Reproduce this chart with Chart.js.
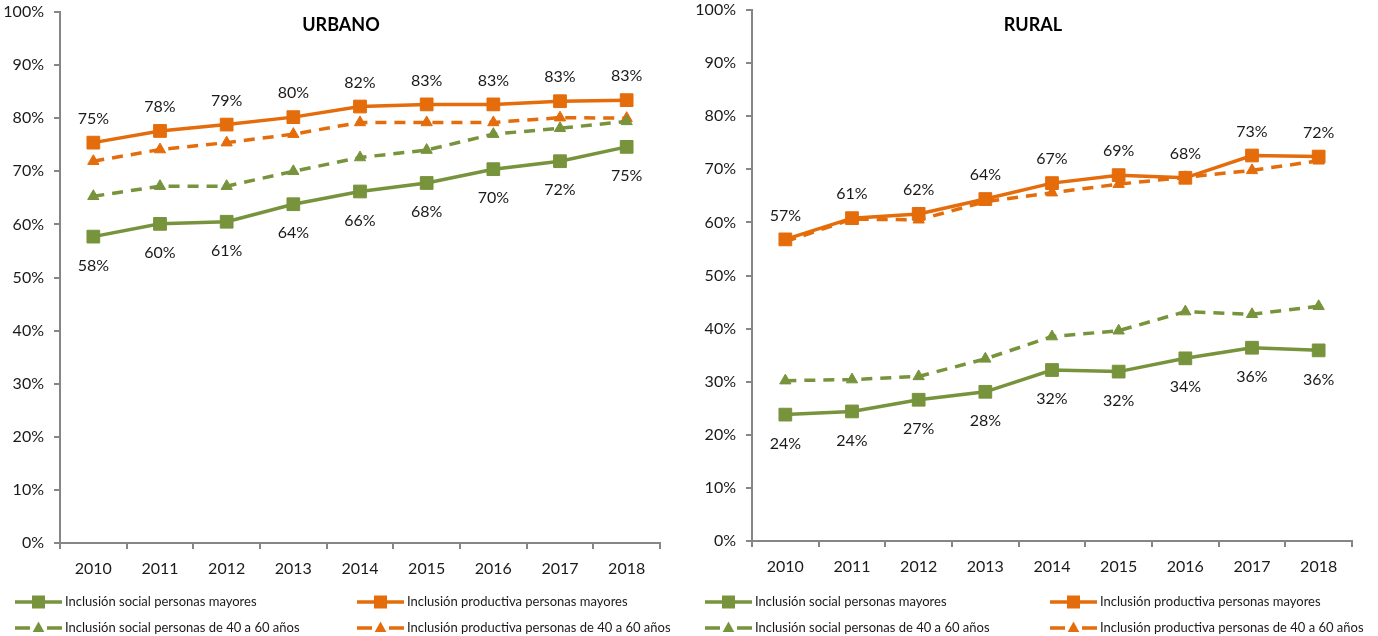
<!DOCTYPE html>
<html lang="es">
  <head>
    <meta charset="UTF-8" />
    <script src="https://cdn.jsdelivr.net/npm/chart.js"></script>
    <title>Inclusión social y productiva</title>
    <style>
      body { margin: 0; background: #fff; }
      .panel { position: absolute; top: 0; }
    </style>
  </head>
  <body>
    <canvas id="urbano" class="panel" style="left: 0" width="690" height="636"></canvas>
    <canvas id="rural" class="panel" style="left: 690px" width="688" height="636"></canvas>

<script>
  // datos
  const anios = ["2010", "2011", "2012", "2013", "2014", "2015", "2016", "2017", "2018"];
  const nombresSeries = [
    "Inclusión social personas mayores",
    "Inclusión productiva personas mayores",
    "Inclusión social personas de 40 a 60 años",
    "Inclusión productiva personas de 40 a 60 años"
  ];

  const urbSocialMayores = [57.7, 60.1, 60.5, 63.8, 66.2, 67.8, 70.4, 71.9, 74.6];
  const urbProdMayores = [75.4, 77.6, 78.8, 80.2, 82.2, 82.6, 82.6, 83.2, 83.4];
  const urbSocial4060 = [65.3, 67.2, 67.2, 70.0, 72.6, 74.0, 77.0, 78.1, 79.4];
  const urbProd4060 = [71.9, 74.1, 75.4, 77.0, 79.2, 79.2, 79.2, 80.1, 80.0];

  const rurSocialMayores = [23.8, 24.4, 26.6, 28.1, 32.2, 31.9, 34.4, 36.4, 35.9];
  const rurProdMayores = [56.8, 60.8, 61.6, 64.4, 67.4, 68.9, 68.4, 72.6, 72.4];
  const rurSocial4060 = [30.2, 30.4, 31.0, 34.3, 38.5, 39.6, 43.2, 42.7, 44.2];
  const rurProd4060 = [56.4, 60.6, 60.5, 63.9, 65.6, 67.2, 68.5, 69.8, 71.6];

  const VERDE = "#77933C";
  const NARANJA = "#E46C0A";
  const GRIS = "#868686";
  const TEXTO = "#1a1a1a";
  const FUENTE = "Lato";

  function marcador(ctx, estilo, x, y, color) {
    ctx.fillStyle = color;
    ctx.beginPath();
    if (estilo == "rect") {
      ctx.rect(x - 6.5, y - 6.5, 13, 13);
    } else {
      ctx.moveTo(x, y - 6.5);
      ctx.lineTo(x + 5.8, y + 4);
      ctx.lineTo(x - 5.8, y + 4);
      ctx.closePath();
    }
    ctx.fill();
  }

  // titulo, etiquetas de valores y leyenda
  function pluginPanel(titulo, colsLeyenda) {
    return {
      id: "panel",
      afterDatasetsDraw(chart) {
        const ctx = chart.ctx;
        ctx.save();
        ctx.fillStyle = "#000";
        ctx.font = "bold 18px " + FUENTE;
        ctx.textAlign = "center";
        ctx.textBaseline = "middle";
        ctx.fillText(titulo, chart.chartArea.left + 281, 25);

        ctx.font = "16px " + FUENTE;
        ctx.fillStyle = TEXTO;
        chart.data.datasets.forEach(function (ds, i) {
          if (!ds.etiqueta) return;
          const meta = chart.getDatasetMeta(i);
          meta.data.forEach(function (p, j) {
            const dy = ds.etiqueta == "arriba" ? -24 : 29;
            ctx.fillText(Math.round(ds.data[j]) + "%", p.x, p.y + dy);
          });
        });

        // leyenda en dos columnas
        const filas = [602, 628];
        ctx.textAlign = "left";
        ctx.font = "13px " + FUENTE;
        chart.data.datasets.forEach(function (ds, i) {
          const x0 = colsLeyenda[i % 2];
          const y = filas[Math.floor(i / 2)];
          ctx.strokeStyle = ds.borderColor;
          ctx.lineWidth = 3.5;
          ctx.beginPath();
          if (ds.borderDash && ds.borderDash.length) {
            ctx.moveTo(x0, y); ctx.lineTo(x0 + 15, y);
            ctx.moveTo(x0 + 32, y); ctx.lineTo(x0 + 47, y);
          } else {
            ctx.moveTo(x0, y); ctx.lineTo(x0 + 47, y);
          }
          ctx.stroke();
          marcador(ctx, ds.pointStyle, x0 + 23.5, y, ds.borderColor);
          ctx.fillStyle = TEXTO;
          ctx.fillText(ds.label, x0 + 50, y);
        });
        ctx.restore();
      }
    };
  }

  function serie(nombre, datos, color, punteada, etiqueta) {
    return {
      label: nombre,
      data: datos,
      borderColor: color,
      backgroundColor: color,
      borderWidth: 3.5,
      borderDash: punteada ? [11, 8] : [],
      pointStyle: punteada ? "triangle" : "rect",
      pointRadius: punteada ? 6.5 : 9,
      pointBorderWidth: 1,
      tension: 0,
      etiqueta: etiqueta
    };
  }

  function crearPanel(id, titulo, series, arriba, anchoY, alturaX, derecha, colsLeyenda) {
    const config = {
      type: "line",
      data: {
        labels: anios,
        datasets: [
          serie(nombresSeries[0], series[0], VERDE, false, "abajo"),
          serie(nombresSeries[1], series[1], NARANJA, false, "arriba"),
          serie(nombresSeries[2], series[2], VERDE, true, null),
          serie(nombresSeries[3], series[3], NARANJA, true, null)
        ]
      },
      options: {
        responsive: false,
        animation: false,
        layout: { padding: { top: arriba, right: derecha, left: 0, bottom: 0 } },
        plugins: {
          legend: { display: false },
          tooltip: { enabled: false }
        },
        scales: {
          x: {
            offset: true,
            grid: { offset: true, drawOnChartArea: false, tickLength: 6, color: GRIS, lineWidth: 2 },
            border: { color: GRIS, width: 2 },
            ticks: { font: { family: FUENTE, size: 16 }, color: TEXTO, padding: 10, maxRotation: 0 },
            afterFit: function (s) { s.height = alturaX; }
          },
          y: {
            min: 0,
            max: 100,
            grid: { drawOnChartArea: false, tickLength: 6, color: GRIS, lineWidth: 2 },
            border: { color: GRIS, width: 2 },
            ticks: {
              stepSize: 10,
              font: { family: FUENTE, size: 16 },
              color: TEXTO,
              padding: 10,
              callback: function (v) { return v + "%"; }
            },
            afterFit: function (s) {
              s.width = anchoY;
              s.paddingTop = 0;
              s.paddingBottom = 0;
            }
          }
        }
      },
      plugins: [pluginPanel(titulo, colsLeyenda)]
    };
    return new Chart(document.getElementById(id), config);
  }

  crearPanel("urbano", "URBANO",
    [urbSocialMayores, urbProdMayores, urbSocial4060, urbProd4060],
    12, 60, 93, 30, [15, 357]);
  crearPanel("rural", "RURAL",
    [rurSocialMayores, rurProdMayores, rurSocial4060, rurProd4060],
    10, 62, 95, 26, [15, 360]);
</script>
  </body>
</html>
